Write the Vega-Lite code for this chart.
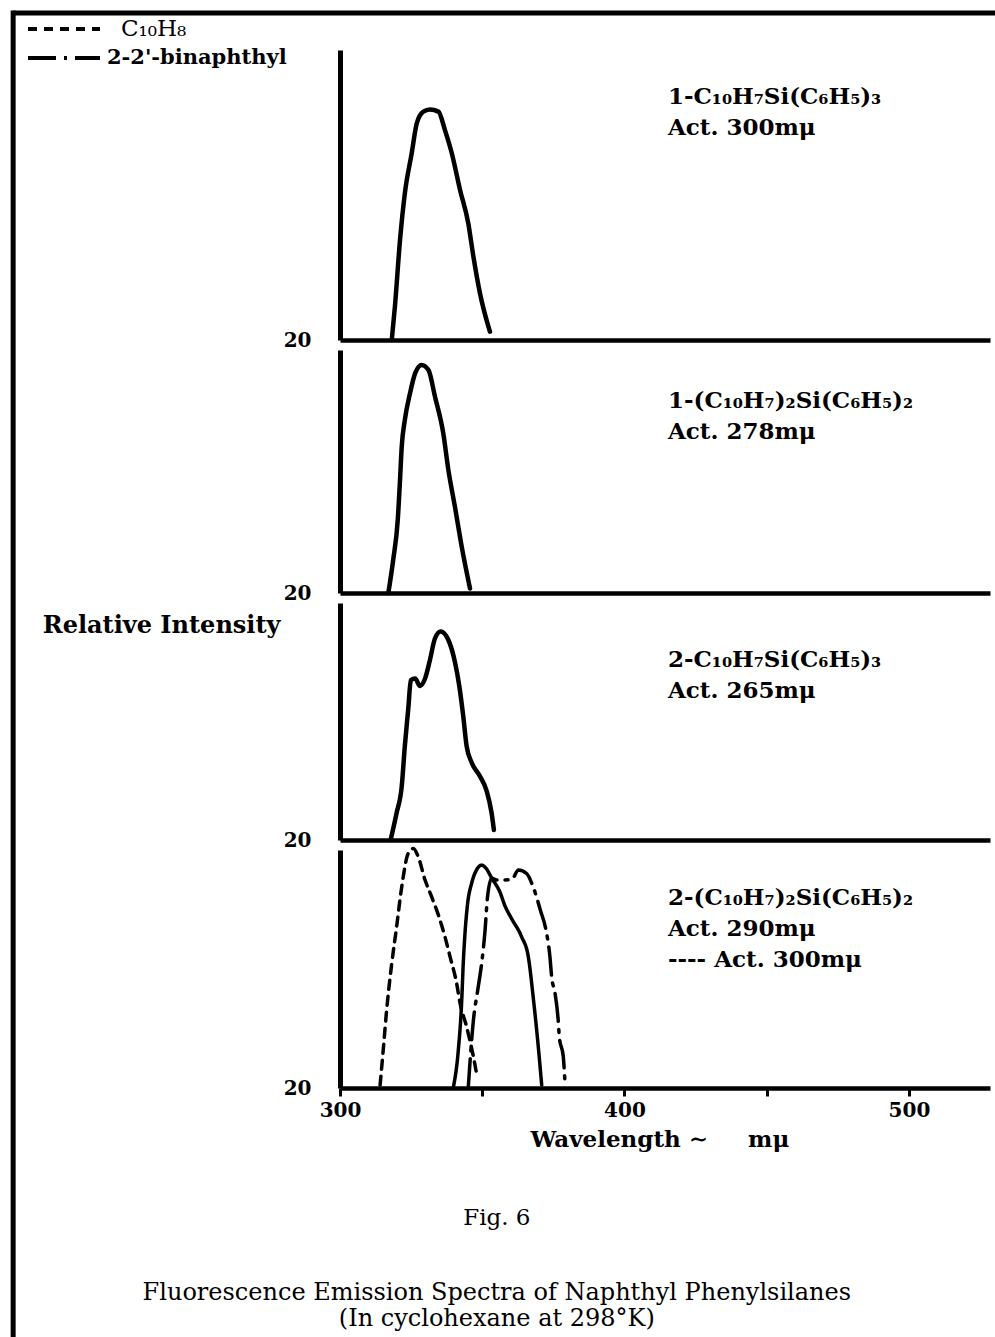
{
  "$schema": "https://vega.github.io/schema/vega-lite/v6.json",
  "padding": {"left": 10, "top": 7, "right": 0, "bottom": 0},
  "background": "white",
  "bounds": "flush",
  "spacing": 10,
  "resolve": {"scale": {"y": "independent"}},
  "title": {
    "text": "Fig. 6",
    "subtitle": ["Fluorescence Emission Spectra of Naphthyl Phenylsilanes", "(In cyclohexane at 298°K)"],
    "orient": "bottom",
    "anchor": "middle",
    "frame": "bounds",
    "offset": -132,
    "dx": -14,
    "font": "DejaVu Serif",
    "fontSize": 23,
    "fontWeight": "normal",
    "color": "black",
    "subtitleFont": "DejaVu Serif",
    "subtitleFontSize": 24,
    "subtitleColor": "black",
    "subtitlePadding": 51,
    "subtitleLineHeight": 26
  },
  "datasets": {
    "spectra": [
      {"panel": 1, "curve": "1-C₁₀H₇Si(C₆H₅)₃", "wavelength": 318.2, "intensity": 20},
      {"panel": 1, "curve": "1-C₁₀H₇Si(C₆H₅)₃", "wavelength": 319.3, "intensity": 29.2},
      {"panel": 1, "curve": "1-C₁₀H₇Si(C₆H₅)₃", "wavelength": 321.1, "intensity": 47.6},
      {"panel": 1, "curve": "1-C₁₀H₇Si(C₆H₅)₃", "wavelength": 322.8, "intensity": 60.5},
      {"panel": 1, "curve": "1-C₁₀H₇Si(C₆H₅)₃", "wavelength": 325.2, "intensity": 71.5},
      {"panel": 1, "curve": "1-C₁₀H₇Si(C₆H₅)₃", "wavelength": 327.0, "intensity": 79.8},
      {"panel": 1, "curve": "1-C₁₀H₇Si(C₆H₅)₃", "wavelength": 329.3, "intensity": 83.0},
      {"panel": 1, "curve": "1-C₁₀H₇Si(C₆H₅)₃", "wavelength": 331.6, "intensity": 83.6},
      {"panel": 1, "curve": "1-C₁₀H₇Si(C₆H₅)₃", "wavelength": 334.6, "intensity": 83.0},
      {"panel": 1, "curve": "1-C₁₀H₇Si(C₆H₅)₃", "wavelength": 336.9, "intensity": 77.9},
      {"panel": 1, "curve": "1-C₁₀H₇Si(C₆H₅)₃", "wavelength": 339.3, "intensity": 71.5},
      {"panel": 1, "curve": "1-C₁₀H₇Si(C₆H₅)₃", "wavelength": 342.2, "intensity": 61.4},
      {"panel": 1, "curve": "1-C₁₀H₇Si(C₆H₅)₃", "wavelength": 345.1, "intensity": 52.2},
      {"panel": 1, "curve": "1-C₁₀H₇Si(C₆H₅)₃", "wavelength": 346.9, "intensity": 43.0},
      {"panel": 1, "curve": "1-C₁₀H₇Si(C₆H₅)₃", "wavelength": 349.2, "intensity": 32.9},
      {"panel": 1, "curve": "1-C₁₀H₇Si(C₆H₅)₃", "wavelength": 352.7, "intensity": 22.3},

      {"panel": 2, "curve": "1-(C₁₀H₇)₂Si(C₆H₅)₂", "wavelength": 317.0, "intensity": 20},
      {"panel": 2, "curve": "1-(C₁₀H₇)₂Si(C₆H₅)₂", "wavelength": 318.7, "intensity": 30.9},
      {"panel": 2, "curve": "1-(C₁₀H₇)₂Si(C₆H₅)₂", "wavelength": 320.3, "intensity": 44.0},
      {"panel": 2, "curve": "1-(C₁₀H₇)₂Si(C₆H₅)₂", "wavelength": 321.1, "intensity": 57.2},
      {"panel": 2, "curve": "1-(C₁₀H₇)₂Si(C₆H₅)₂", "wavelength": 321.7, "intensity": 68.2},
      {"panel": 2, "curve": "1-(C₁₀H₇)₂Si(C₆H₅)₂", "wavelength": 322.8, "intensity": 77.0},
      {"panel": 2, "curve": "1-(C₁₀H₇)₂Si(C₆H₅)₂", "wavelength": 324.6, "intensity": 85.7},
      {"panel": 2, "curve": "1-(C₁₀H₇)₂Si(C₆H₅)₂", "wavelength": 326.4, "intensity": 92.3},
      {"panel": 2, "curve": "1-(C₁₀H₇)₂Si(C₆H₅)₂", "wavelength": 328.7, "intensity": 95.1},
      {"panel": 2, "curve": "1-(C₁₀H₇)₂Si(C₆H₅)₂", "wavelength": 331.1, "intensity": 93.4},
      {"panel": 2, "curve": "1-(C₁₀H₇)₂Si(C₆H₅)₂", "wavelength": 333.4, "intensity": 84.6},
      {"panel": 2, "curve": "1-(C₁₀H₇)₂Si(C₆H₅)₂", "wavelength": 336.3, "intensity": 72.6},
      {"panel": 2, "curve": "1-(C₁₀H₇)₂Si(C₆H₅)₂", "wavelength": 338.1, "intensity": 60.5},
      {"panel": 2, "curve": "1-(C₁₀H₇)₂Si(C₆H₅)₂", "wavelength": 340.4, "intensity": 48.4},
      {"panel": 2, "curve": "1-(C₁₀H₇)₂Si(C₆H₅)₂", "wavelength": 342.8, "intensity": 35.2},
      {"panel": 2, "curve": "1-(C₁₀H₇)₂Si(C₆H₅)₂", "wavelength": 345.7, "intensity": 21.5},

      {"panel": 3, "curve": "2-C₁₀H₇Si(C₆H₅)₃", "wavelength": 317.8, "intensity": 20},
      {"panel": 3, "curve": "2-C₁₀H₇Si(C₆H₅)₃", "wavelength": 319.9, "intensity": 29.1},
      {"panel": 3, "curve": "2-C₁₀H₇Si(C₆H₅)₃", "wavelength": 321.7, "intensity": 38.1},
      {"panel": 3, "curve": "2-C₁₀H₇Si(C₆H₅)₃", "wavelength": 322.8, "intensity": 51.8},
      {"panel": 3, "curve": "2-C₁₀H₇Si(C₆H₅)₃", "wavelength": 324.0, "intensity": 64.3},
      {"panel": 3, "curve": "2-C₁₀H₇Si(C₆H₅)₃", "wavelength": 324.9, "intensity": 73.9},
      {"panel": 3, "curve": "2-C₁₀H₇Si(C₆H₅)₃", "wavelength": 326.4, "intensity": 74.5},
      {"panel": 3, "curve": "2-C₁₀H₇Si(C₆H₅)₃", "wavelength": 328.1, "intensity": 72.0},
      {"panel": 3, "curve": "2-C₁₀H₇Si(C₆H₅)₃", "wavelength": 329.9, "intensity": 74.5},
      {"panel": 3, "curve": "2-C₁₀H₇Si(C₆H₅)₃", "wavelength": 331.6, "intensity": 80.7},
      {"panel": 3, "curve": "2-C₁₀H₇Si(C₆H₅)₃", "wavelength": 333.4, "intensity": 88.1},
      {"panel": 3, "curve": "2-C₁₀H₇Si(C₆H₅)₃", "wavelength": 335.4, "intensity": 90.4},
      {"panel": 3, "curve": "2-C₁₀H₇Si(C₆H₅)₃", "wavelength": 338.1, "intensity": 87.5},
      {"panel": 3, "curve": "2-C₁₀H₇Si(C₆H₅)₃", "wavelength": 340.4, "intensity": 80.1},
      {"panel": 3, "curve": "2-C₁₀H₇Si(C₆H₅)₃", "wavelength": 341.9, "intensity": 72.2},
      {"panel": 3, "curve": "2-C₁₀H₇Si(C₆H₅)₃", "wavelength": 343.3, "intensity": 62.0},
      {"panel": 3, "curve": "2-C₁₀H₇Si(C₆H₅)₃", "wavelength": 344.5, "intensity": 51.8},
      {"panel": 3, "curve": "2-C₁₀H₇Si(C₆H₅)₃", "wavelength": 346.3, "intensity": 46.1},
      {"panel": 3, "curve": "2-C₁₀H₇Si(C₆H₅)₃", "wavelength": 349.2, "intensity": 41.5},
      {"panel": 3, "curve": "2-C₁₀H₇Si(C₆H₅)₃", "wavelength": 351.6, "intensity": 36.4},
      {"panel": 3, "curve": "2-C₁₀H₇Si(C₆H₅)₃", "wavelength": 353.3, "intensity": 29.1},
      {"panel": 3, "curve": "2-C₁₀H₇Si(C₆H₅)₃", "wavelength": 354.1, "intensity": 23.4},

      {"panel": 4, "curve": "C₁₀H₈", "wavelength": 314.1, "intensity": 21.0},
      {"panel": 4, "curve": "C₁₀H₈", "wavelength": 315.2, "intensity": 32.8},
      {"panel": 4, "curve": "C₁₀H₈", "wavelength": 316.4, "intensity": 46.2},
      {"panel": 4, "curve": "C₁₀H₈", "wavelength": 318.2, "intensity": 61.9},
      {"panel": 4, "curve": "C₁₀H₈", "wavelength": 319.9, "intensity": 74.2},
      {"panel": 4, "curve": "C₁₀H₈", "wavelength": 321.7, "intensity": 87.6},
      {"panel": 4, "curve": "C₁₀H₈", "wavelength": 324.0, "intensity": 98.9},
      {"panel": 4, "curve": "C₁₀H₈", "wavelength": 325.8, "intensity": 100.5},
      {"panel": 4, "curve": "C₁₀H₈", "wavelength": 327.5, "intensity": 97.7},
      {"panel": 4, "curve": "C₁₀H₈", "wavelength": 329.9, "intensity": 89.9},
      {"panel": 4, "curve": "C₁₀H₈", "wavelength": 332.2, "intensity": 84.3},
      {"panel": 4, "curve": "C₁₀H₈", "wavelength": 334.6, "intensity": 78.1},
      {"panel": 4, "curve": "C₁₀H₈", "wavelength": 336.9, "intensity": 70.8},
      {"panel": 4, "curve": "C₁₀H₈", "wavelength": 338.7, "intensity": 64.1},
      {"panel": 4, "curve": "C₁₀H₈", "wavelength": 341.0, "intensity": 55.2},
      {"panel": 4, "curve": "C₁₀H₈", "wavelength": 342.2, "intensity": 48.5},
      {"panel": 4, "curve": "C₁₀H₈", "wavelength": 344.5, "intensity": 40.6},
      {"panel": 4, "curve": "C₁₀H₈", "wavelength": 346.9, "intensity": 30.5},
      {"panel": 4, "curve": "C₁₀H₈", "wavelength": 348.0, "intensity": 24.9},

      {"panel": 4, "curve": "2-(C₁₀H₇)₂Si(C₆H₅)₂", "wavelength": 339.8, "intensity": 20},
      {"panel": 4, "curve": "2-(C₁₀H₇)₂Si(C₆H₅)₂", "wavelength": 341.6, "intensity": 32.8},
      {"panel": 4, "curve": "2-(C₁₀H₇)₂Si(C₆H₅)₂", "wavelength": 342.8, "intensity": 49.6},
      {"panel": 4, "curve": "2-(C₁₀H₇)₂Si(C₆H₅)₂", "wavelength": 343.3, "intensity": 61.3},
      {"panel": 4, "curve": "2-(C₁₀H₇)₂Si(C₆H₅)₂", "wavelength": 343.9, "intensity": 71.4},
      {"panel": 4, "curve": "2-(C₁₀H₇)₂Si(C₆H₅)₂", "wavelength": 344.8, "intensity": 81.5},
      {"panel": 4, "curve": "2-(C₁₀H₇)₂Si(C₆H₅)₂", "wavelength": 346.3, "intensity": 88.9},
      {"panel": 4, "curve": "2-(C₁₀H₇)₂Si(C₆H₅)₂", "wavelength": 348.0, "intensity": 93.3},
      {"panel": 4, "curve": "2-(C₁₀H₇)₂Si(C₆H₅)₂", "wavelength": 349.8, "intensity": 94.9},
      {"panel": 4, "curve": "2-(C₁₀H₇)₂Si(C₆H₅)₂", "wavelength": 351.3, "intensity": 93.9},
      {"panel": 4, "curve": "2-(C₁₀H₇)₂Si(C₆H₅)₂", "wavelength": 353.3, "intensity": 90.6},
      {"panel": 4, "curve": "2-(C₁₀H₇)₂Si(C₆H₅)₂", "wavelength": 356.2, "intensity": 85.9},
      {"panel": 4, "curve": "2-(C₁₀H₇)₂Si(C₆H₅)₂", "wavelength": 358.0, "intensity": 81.2},
      {"panel": 4, "curve": "2-(C₁₀H₇)₂Si(C₆H₅)₂", "wavelength": 360.4, "intensity": 76.8},
      {"panel": 4, "curve": "2-(C₁₀H₇)₂Si(C₆H₅)₂", "wavelength": 363.8, "intensity": 70.9},
      {"panel": 4, "curve": "2-(C₁₀H₇)₂Si(C₆H₅)₂", "wavelength": 366.2, "intensity": 64.1},
      {"panel": 4, "curve": "2-(C₁₀H₇)₂Si(C₆H₅)₂", "wavelength": 367.9, "intensity": 50.7},
      {"panel": 4, "curve": "2-(C₁₀H₇)₂Si(C₆H₅)₂", "wavelength": 369.7, "intensity": 33.9},
      {"panel": 4, "curve": "2-(C₁₀H₇)₂Si(C₆H₅)₂", "wavelength": 370.9, "intensity": 21.0},

      {"panel": 4, "curve": "2-2'-binaphthyl", "wavelength": 345.1, "intensity": 20.4},
      {"panel": 4, "curve": "2-2'-binaphthyl", "wavelength": 346.9, "intensity": 42.8},
      {"panel": 4, "curve": "2-2'-binaphthyl", "wavelength": 348.6, "intensity": 54.0},
      {"panel": 4, "curve": "2-2'-binaphthyl", "wavelength": 349.8, "intensity": 61.9},
      {"panel": 4, "curve": "2-2'-binaphthyl", "wavelength": 351.0, "intensity": 73.1},
      {"panel": 4, "curve": "2-2'-binaphthyl", "wavelength": 351.8, "intensity": 83.7},
      {"panel": 4, "curve": "2-2'-binaphthyl", "wavelength": 353.3, "intensity": 90.5},
      {"panel": 4, "curve": "2-2'-binaphthyl", "wavelength": 355.1, "intensity": 89.9},
      {"panel": 4, "curve": "2-2'-binaphthyl", "wavelength": 357.4, "intensity": 89.9},
      {"panel": 4, "curve": "2-2'-binaphthyl", "wavelength": 360.4, "intensity": 90.1},
      {"panel": 4, "curve": "2-2'-binaphthyl", "wavelength": 362.7, "intensity": 93.3},
      {"panel": 4, "curve": "2-2'-binaphthyl", "wavelength": 365.6, "intensity": 92.1},
      {"panel": 4, "curve": "2-2'-binaphthyl", "wavelength": 367.9, "intensity": 87.6},
      {"panel": 4, "curve": "2-2'-binaphthyl", "wavelength": 370.5, "intensity": 79.6},
      {"panel": 4, "curve": "2-2'-binaphthyl", "wavelength": 372.4, "intensity": 73.1},
      {"panel": 4, "curve": "2-2'-binaphthyl", "wavelength": 373.8, "intensity": 64.1},
      {"panel": 4, "curve": "2-2'-binaphthyl", "wavelength": 374.4, "intensity": 57.4},
      {"panel": 4, "curve": "2-2'-binaphthyl", "wavelength": 375.6, "intensity": 51.8},
      {"panel": 4, "curve": "2-2'-binaphthyl", "wavelength": 376.7, "intensity": 42.8},
      {"panel": 4, "curve": "2-2'-binaphthyl", "wavelength": 377.1, "intensity": 37.2},
      {"panel": 4, "curve": "2-2'-binaphthyl", "wavelength": 378.5, "intensity": 30.5},
      {"panel": 4, "curve": "2-2'-binaphthyl", "wavelength": 379.1, "intensity": 21.6}
    ]
  },
  "config": {
    "font": "DejaVu Serif",
    "view": {"stroke": null},
    "axis": {
      "grid": false,
      "domainColor": "black",
      "domainWidth": 4.5,
      "labelColor": "black",
      "titleColor": "black",
      "labelFont": "DejaVu Serif",
      "titleFont": "DejaVu Serif",
      "labelFontWeight": "bold",
      "titleFontWeight": "bold",
      "labelFontSize": 20,
      "titleFontSize": 23
    },
    "axisY": {"ticks": false, "labelPadding": 29, "domainWidth": 5, "title": null},
    "text": {"font": "DejaVu Serif", "fontWeight": "bold", "fontSize": 23, "color": "black", "align": "left", "baseline": "alphabetic", "lineHeight": 31}
  },
  "vconcat": [
    {
      "width": 650,
      "height": 290,
      "layer": [
        {
          "data": {"values": [{}]},
          "mark": {"type": "rule", "color": "black", "strokeWidth": 5},
          "encoding": {
            "x": {"datum": 185.1, "type": "quantitative"},
            "x2": {"datum": 535},
            "y": {"datum": 110.2, "type": "quantitative"}
          }
        },
        {
          "data": {"values": [{}]},
          "mark": {"type": "rule", "color": "black", "strokeWidth": 5},
          "encoding": {
            "x": {"datum": 185.1, "type": "quantitative"},
            "y": {"datum": 110.9, "type": "quantitative"},
            "y2": {"datum": -255}
          }
        },
        {
          "data": {"name": "spectra"},
          "transform": [{"filter": "datum.panel == 1"}],
          "mark": {"type": "line", "color": "black", "strokeWidth": 4.5, "strokeCap": "round", "strokeJoin": "round", "interpolate": "monotone"},
          "encoding": {
            "x": {"field": "wavelength", "type": "quantitative", "scale": {"domain": [300, 528.5], "nice": false, "zero": false},
                  "axis": {"labels": false, "ticks": false, "title": null}},
            "y": {"field": "intensity", "type": "quantitative", "scale": {"domain": [20, 100], "nice": false, "zero": false},
                  "axis": {"values": [20]}}
          }
        },
        {
          "data": {"values": [{}]},
          "mark": {"type": "text", "text": ["1-C₁₀H₇Si(C₆H₅)₃", "Act. 300mμ"]},
          "encoding": {
            "x": {"datum": 415.3, "type": "quantitative"},
            "y": {"datum": 85.1, "type": "quantitative"}
          }
        }
      ]
    },
    {
      "width": 650,
      "height": 243,
      "layer": [
        {
          "data": {"name": "spectra"},
          "transform": [{"filter": "datum.panel == 2"}],
          "mark": {"type": "line", "color": "black", "strokeWidth": 4.5, "strokeCap": "round", "strokeJoin": "round", "interpolate": "monotone"},
          "encoding": {
            "x": {"field": "wavelength", "type": "quantitative", "scale": {"domain": [300, 528.5], "nice": false, "zero": false},
                  "axis": {"labels": false, "ticks": false, "title": null}},
            "y": {"field": "intensity", "type": "quantitative", "scale": {"domain": [20, 100], "nice": false, "zero": false},
                  "axis": {"values": [20]}}
          }
        },
        {
          "data": {"values": [{}]},
          "mark": {"type": "text", "text": ["1-(C₁₀H₇)₂Si(C₆H₅)₂", "Act. 278mμ"]},
          "encoding": {
            "x": {"datum": 415.3, "type": "quantitative"},
            "y": {"datum": 80.9, "type": "quantitative"}
          }
        }
      ]
    },
    {
      "width": 650,
      "height": 237,
      "layer": [
        {
          "data": {"name": "spectra"},
          "transform": [{"filter": "datum.panel == 3"}],
          "mark": {"type": "line", "color": "black", "strokeWidth": 4.5, "strokeCap": "round", "strokeJoin": "round", "interpolate": "monotone"},
          "encoding": {
            "x": {"field": "wavelength", "type": "quantitative", "scale": {"domain": [300, 528.5], "nice": false, "zero": false},
                  "axis": {"labels": false, "ticks": false, "title": null}},
            "y": {"field": "intensity", "type": "quantitative", "scale": {"domain": [20, 100], "nice": false, "zero": false},
                  "axis": {"values": [20], "title": "Relative Intensity", "titleFontSize": 24, "titleAngle": 0, "titleAlign": "right", "titleBaseline": "middle", "titleX": -60, "titleY": 22}}
          }
        },
        {
          "data": {"values": [{}]},
          "mark": {"type": "text", "text": ["2-C₁₀H₇Si(C₆H₅)₃", "Act. 265mμ"]},
          "encoding": {
            "x": {"datum": 415.3, "type": "quantitative"},
            "y": {"datum": 78.3, "type": "quantitative"}
          }
        }
      ]
    },
    {
      "width": 650,
      "height": 238,
      "layer": [
        {
          "data": {"name": "spectra"},
          "transform": [{"filter": "datum.panel == 4"}],
          "mark": {"type": "line", "color": "black", "strokeWidth": 3.5, "strokeCap": "round", "strokeJoin": "round", "interpolate": "monotone"},
          "encoding": {
            "x": {"field": "wavelength", "type": "quantitative", "scale": {"domain": [300, 528.5], "nice": false, "zero": false},
                  "axis": {"values": [300, 350, 400, 450, 500], "labelExpr": "datum.value % 100 == 0 ? datum.label : ''",
                           "labelFlush": false, "ticks": true, "tickSize": 8, "tickWidth": 3, "tickColor": "black", "labelPadding": 4,
                           "title": "Wavelength ∼\u00a0\u00a0\u00a0\u00a0\u00a0mμ", "titlePadding": 8, "titleAnchor": "start", "titleX": 190}},
            "y": {"field": "intensity", "type": "quantitative", "scale": {"domain": [20, 100], "nice": false, "zero": false},
                  "axis": {"values": [20]}},
            "strokeDash": {
              "field": "curve", "type": "nominal",
              "scale": {"domain": ["C₁₀H₈", "2-2'-binaphthyl", "2-(C₁₀H₇)₂Si(C₆H₅)₂"], "range": [[9, 7], [28, 8, 3, 8], [1, 0]]},
              "legend": {
                "values": ["C₁₀H₈", "2-2'-binaphthyl"],
                "title": null,
                "orient": "none",
                "legendX": -290,
                "legendY": -35,
                "symbolType": "M-3,0H3",
                "symbolSize": 576,
                "symbolStrokeWidth": 4,
                "symbolStrokeColor": "black",
                "symbolFillColor": "transparent",
                "labelOffset": 29,
                "labelLimit": 400,
                "labelFont": "DejaVu Serif",
                "labelFontSize": 21,
                "labelFontWeight": "bold",
                "labelColor": "black",
                "rowPadding": 3,
                "encode": {
                  "labels": {
                    "update": {
                      "fontWeight": {"signal": "datum.label == 'C₁₀H₈' ? 'normal' : 'bold'"},
                      "fontSize": {"signal": "datum.label == 'C₁₀H₈' ? 23 : 21"},
                      "dx": {"signal": "datum.label == 'C₁₀H₈' ? 14 : 0"}
                    }
                  }
                }
              }
            }
          }
        },
        {
          "data": {"values": [{}]},
          "mark": {"type": "text", "text": ["2-(C₁₀H₇)₂Si(C₆H₅)₂", "Act. 290mμ", "----  Act. 300mμ"]},
          "encoding": {
            "x": {"datum": 415.3, "type": "quantitative"},
            "y": {"datum": 81.5, "type": "quantitative"}
          }
        }
      ]
    }
  ]
}
